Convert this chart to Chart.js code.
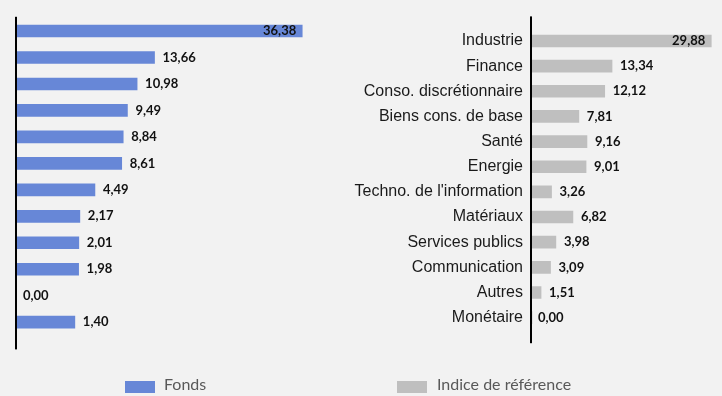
<!DOCTYPE html>
<html>
<head>
<meta charset="utf-8">
<script src="https://cdn.jsdelivr.net/npm/chart.js@4.4.0/dist/chart.umd.min.js"></script>
<style>
  body { margin: 0; background: #f2f2f2; }
  #wrap { position: relative; width: 722px; height: 396px; overflow: hidden; }
  canvas { position: absolute; top: 0; }
  #fondsChart { left: 0; }
  #indiceChart { left: 340px; }
  .legend { position: absolute; top: 374px; font: 16px Lato, sans-serif; color: #595959; line-height: 20px; white-space: nowrap; }
  .legend .box { position: absolute; left: 0; top: 7px; width: 30px; height: 12px; }
</style>
</head>
<body>
<div id="wrap">
  <canvas id="fondsChart" width="340" height="396"></canvas>
  <canvas id="indiceChart" width="382" height="396"></canvas>
  <div class="legend" id="legFonds" style="left:125px;padding-left:39px"><span class="box"></span><span class="txt"></span></div>
  <div class="legend" id="legIndice" style="left:397px;padding-left:40px"><span class="box"></span><span class="txt"></span></div>
</div>
<script>
// sector weights (%)
var categories = ['Industrie', 'Finance', 'Conso. discrétionnaire', 'Biens cons. de base', 'Santé', 'Energie',
  "Techno. de l'information", 'Matériaux', 'Services publics', 'Communication', 'Autres', 'Monétaire'];
var fondsValues = [36.38, 13.66, 10.98, 9.49, 8.84, 8.61, 4.49, 2.17, 2.01, 1.98, 0.00, 1.40];
var indiceValues = [29.88, 13.34, 12.12, 7.81, 9.16, 9.01, 3.26, 6.82, 3.98, 3.09, 1.51, 0.00];
var seriesNames = ['Fonds', 'Indice de référence'];

var BLUE = '#6787d7';
var GRAY = '#bfbfbf';

/** writes the value next to each bar, inside the bar when it would run past the chart */
var valueLabels = {
  id: 'valueLabels',
  afterDatasetsDraw: function(chart) {
    var ctx = chart.ctx;
    var area = chart.chartArea;
    var values = chart.data.datasets[0].data;
    ctx.save();
    ctx.font = 'bold 13px Lato';
    ctx.fillStyle = '#111111';
    ctx.textBaseline = 'middle';
    chart.getDatasetMeta(0).data.forEach(function(bar, i) {
      var v = values[i];
      var text = v.toFixed(2).replace('.', ',');
      var w = ctx.measureText(text).width;
      var x, align = 'left';
      if (v === 0) {
        x = area.left + 6;
      } else if (bar.x + 8 + w > area.right) {
        x = bar.x - 6;
        align = 'right';
      } else {
        x = bar.x + 8;
      }
      ctx.textAlign = align;
      ctx.fillText(text, x, bar.y);
    });
    ctx.restore();
  }
};

/** vertical axis line, a little longer than the plot area */
var axisLine = {
  id: 'axisLine',
  afterDatasetsDraw: function(chart, args, opts) {
    var a = chart.chartArea;
    var ctx = chart.ctx;
    ctx.save();
    ctx.fillStyle = '#000000';
    ctx.fillRect(Math.round(a.left) - 2, a.top - opts.top, 2, a.bottom - a.top + opts.top + opts.bottom);
    ctx.restore();
  }
};

// left panel: fund, bars start at the axis minimum, empty weights are not drawn
new Chart(document.getElementById('fondsChart'), {
  type: 'bar',
  data: {
    labels: categories,
    datasets: [{
      label: seriesNames[0],
      data: fondsValues,
      base: -7.5,
      barThickness: 12,
      backgroundColor: function(c) { return c.raw === 0 ? 'rgba(0,0,0,0)' : BLUE; }
    }]
  },
  options: {
    indexAxis: 'y',
    responsive: false,
    animation: false,
    layout: { padding: { left: 17, right: 33.75, top: 17.8, bottom: 60.6 } },
    scales: {
      x: { display: false, min: -7.5, max: 37 },
      y: { display: false }
    },
    plugins: {
      legend: { display: false },
      tooltip: { enabled: false },
      axisLine: { top: 1, bottom: 14 }
    }
  },
  plugins: [valueLabels, axisLine]
});

// right panel: benchmark with sector names
new Chart(document.getElementById('indiceChart'), {
  type: 'bar',
  data: {
    labels: categories,
    datasets: [{
      label: seriesNames[1],
      data: indiceValues,
      barThickness: 12,
      backgroundColor: GRAY
    }]
  },
  options: {
    indexAxis: 'y',
    responsive: false,
    animation: false,
    layout: { padding: { left: 0, right: 2.2, top: 28.4, bottom: 65.8 } },
    scales: {
      x: { display: false, min: 0, max: 31.3 },
      y: {
        grid: { display: false, drawTicks: false },
        border: { display: false },
        ticks: { autoSkip: false, padding: 9, color: '#1a1a1a', font: { family: 'Liberation Sans', size: 16 } },
        afterFit: function(scale) { scale.width = 192; }
      }
    },
    plugins: {
      legend: { display: false },
      tooltip: { enabled: false },
      axisLine: { top: 12, bottom: 13 }
    }
  },
  plugins: [valueLabels, axisLine]
});

// legend
[['legFonds', BLUE, seriesNames[0]], ['legIndice', GRAY, seriesNames[1]]].forEach(function(item) {
  var el = document.getElementById(item[0]);
  el.querySelector('.box').style.background = item[1];
  el.querySelector('.txt').textContent = item[2];
});
</script>
</body>
</html>
